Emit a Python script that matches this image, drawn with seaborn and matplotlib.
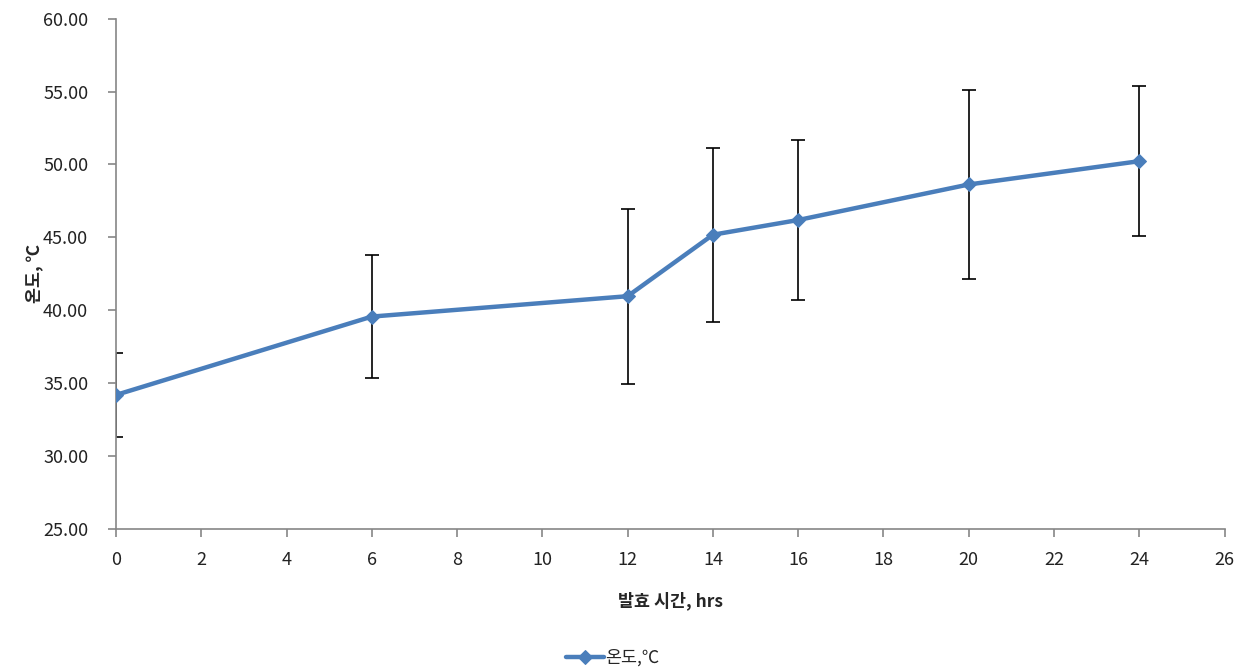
import matplotlib
matplotlib.use("Agg")
import matplotlib.pyplot as plt
import seaborn as sns
import pandas as pd

# Fermentation temperature over time (mean ± deviation)
hours = [0, 6, 12, 14, 16, 20, 24]
temp_mean = [34.17, 39.55, 40.95, 45.17, 46.18, 48.62, 50.22]
temp_err = [2.87, 4.2, 6.0, 5.97, 5.5, 6.5, 5.15]

x_ticks = list(range(0, 27, 2))
y_ticks = [25, 30, 35, 40, 45, 50, 55, 60]

series_name = "온도,℃"
x_label = "발효 시간, hrs"
y_label = "온도, ℃"

sns.set_theme(style="white")
plt.rcParams["font.family"] = ["Noto Sans CJK KR", "DejaVu Sans"]

df = pd.DataFrame({"hours": hours, "temp": temp_mean})

fig = plt.figure(figsize=(12.47, 6.69), dpi=100)
ax = fig.add_axes([0.093, 0.21, 0.889, 0.762])

line_color = "#4a7ebb"

ax.errorbar(hours, temp_mean, yerr=temp_err, fmt="none", ecolor="black",
            elinewidth=1.2, capsize=5, capthick=1.2, zorder=2)
sns.lineplot(data=df, x="hours", y="temp", ax=ax, color=line_color,
             linewidth=3.2, marker="D", markersize=7.5, markeredgecolor=line_color,
             label=series_name, zorder=3)

ax.set_xlim(0, 26)
ax.set_ylim(25, 60)
ax.set_xticks(x_ticks)
ax.set_yticks(y_ticks)
ax.set_yticklabels([f"{v:.2f}" for v in y_ticks])

for side in ["top", "right"]:
    ax.spines[side].set_visible(False)
for side in ["left", "bottom"]:
    ax.spines[side].set_color("#868686")
    ax.spines[side].set_linewidth(1.2)

ax.tick_params(axis="both", which="major", direction="out", length=6, width=1.2,
               color="#868686", labelsize=13, labelcolor="#222222",
               bottom=True, left=True)
ax.tick_params(axis="y", pad=14)
ax.tick_params(axis="x", pad=10)

ax.set_xlabel(x_label, fontsize=12.5, fontweight="bold", labelpad=16)
ax.set_ylabel(y_label, fontsize=12.5, fontweight="bold")
ax.yaxis.set_label_coords(-0.066, 0.5)

leg = ax.legend(loc="center", bbox_to_anchor=(0.448, -0.254), frameon=False,
                fontsize=12.5, handlelength=2.2, handletextpad=0.1)

fig.savefig("out.png", dpi=100, facecolor="white")
